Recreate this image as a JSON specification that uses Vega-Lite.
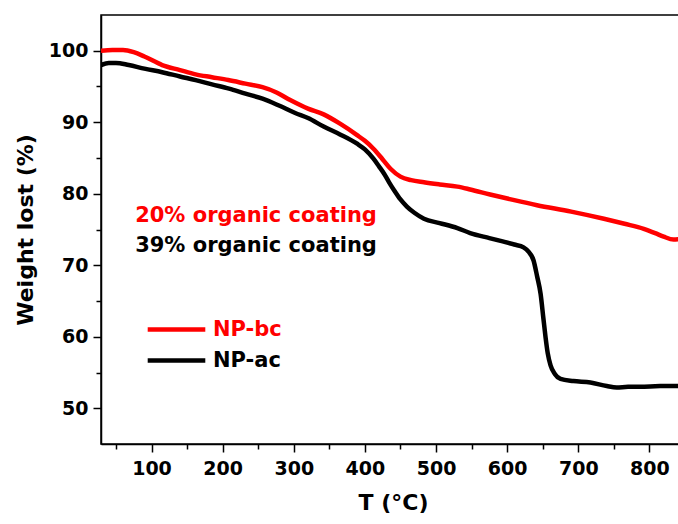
{
  "$schema": "https://vega.github.io/schema/vega-lite/v6.json",
  "width": 584,
  "height": 429,
  "autosize": "none",
  "padding": {"left": 101, "top": 15, "right": 0, "bottom": 80},
  "background": "white",
  "config": {
    "font": "DejaVu Sans",
    "view": {"stroke": "black", "strokeWidth": 1.5},
    "axis": {
      "labelFontSize": 19,
      "labelFontWeight": "bold",
      "labelColor": "black",
      "labelFlush": false,
      "labelOverlap": false,
      "tickColor": "black",
      "tickWidth": 1.5,
      "domainColor": "black",
      "domainWidth": 1.5,
      "grid": false,
      "titleFontSize": 22,
      "titleFontWeight": "bold",
      "titleColor": "black"
    }
  },
  "resolve": {"axis": {"x": "independent", "y": "independent"}},
  "datasets": {
    "tga": [
      {"T": 29, "W": 100.0, "sample": "NP-bc"},
      {"T": 45, "W": 100.1, "sample": "NP-bc"},
      {"T": 60, "W": 100.1, "sample": "NP-bc"},
      {"T": 75, "W": 99.8, "sample": "NP-bc"},
      {"T": 90, "W": 99.2, "sample": "NP-bc"},
      {"T": 115, "W": 98.0, "sample": "NP-bc"},
      {"T": 140, "W": 97.3, "sample": "NP-bc"},
      {"T": 162, "W": 96.7, "sample": "NP-bc"},
      {"T": 185, "W": 96.3, "sample": "NP-bc"},
      {"T": 208, "W": 95.9, "sample": "NP-bc"},
      {"T": 232, "W": 95.4, "sample": "NP-bc"},
      {"T": 256, "W": 94.9, "sample": "NP-bc"},
      {"T": 275, "W": 94.2, "sample": "NP-bc"},
      {"T": 295, "W": 93.1, "sample": "NP-bc"},
      {"T": 320, "W": 91.9, "sample": "NP-bc"},
      {"T": 342, "W": 91.1, "sample": "NP-bc"},
      {"T": 365, "W": 89.8, "sample": "NP-bc"},
      {"T": 389, "W": 88.2, "sample": "NP-bc"},
      {"T": 400, "W": 87.4, "sample": "NP-bc"},
      {"T": 412, "W": 86.3, "sample": "NP-bc"},
      {"T": 425, "W": 84.8, "sample": "NP-bc"},
      {"T": 436, "W": 83.5, "sample": "NP-bc"},
      {"T": 450, "W": 82.4, "sample": "NP-bc"},
      {"T": 465, "W": 81.9, "sample": "NP-bc"},
      {"T": 483, "W": 81.6, "sample": "NP-bc"},
      {"T": 505, "W": 81.3, "sample": "NP-bc"},
      {"T": 530, "W": 81.0, "sample": "NP-bc"},
      {"T": 548, "W": 80.6, "sample": "NP-bc"},
      {"T": 576, "W": 79.9, "sample": "NP-bc"},
      {"T": 610, "W": 79.1, "sample": "NP-bc"},
      {"T": 642, "W": 78.4, "sample": "NP-bc"},
      {"T": 690, "W": 77.5, "sample": "NP-bc"},
      {"T": 736, "W": 76.5, "sample": "NP-bc"},
      {"T": 765, "W": 75.8, "sample": "NP-bc"},
      {"T": 792, "W": 75.1, "sample": "NP-bc"},
      {"T": 808, "W": 74.5, "sample": "NP-bc"},
      {"T": 820, "W": 74.0, "sample": "NP-bc"},
      {"T": 834, "W": 73.6, "sample": "NP-bc"},
      {"T": 845, "W": 73.7, "sample": "NP-bc"},
      {"T": 29, "W": 98.0, "sample": "NP-ac"},
      {"T": 40, "W": 98.3, "sample": "NP-ac"},
      {"T": 50, "W": 98.3, "sample": "NP-ac"},
      {"T": 68, "W": 98.0, "sample": "NP-ac"},
      {"T": 90, "W": 97.5, "sample": "NP-ac"},
      {"T": 115, "W": 97.0, "sample": "NP-ac"},
      {"T": 140, "W": 96.4, "sample": "NP-ac"},
      {"T": 162, "W": 95.9, "sample": "NP-ac"},
      {"T": 185, "W": 95.3, "sample": "NP-ac"},
      {"T": 209, "W": 94.7, "sample": "NP-ac"},
      {"T": 232, "W": 94.0, "sample": "NP-ac"},
      {"T": 256, "W": 93.3, "sample": "NP-ac"},
      {"T": 280, "W": 92.3, "sample": "NP-ac"},
      {"T": 302, "W": 91.3, "sample": "NP-ac"},
      {"T": 320, "W": 90.6, "sample": "NP-ac"},
      {"T": 342, "W": 89.4, "sample": "NP-ac"},
      {"T": 365, "W": 88.3, "sample": "NP-ac"},
      {"T": 389, "W": 87.0, "sample": "NP-ac"},
      {"T": 400, "W": 86.2, "sample": "NP-ac"},
      {"T": 412, "W": 84.9, "sample": "NP-ac"},
      {"T": 420, "W": 83.8, "sample": "NP-ac"},
      {"T": 427, "W": 82.8, "sample": "NP-ac"},
      {"T": 434, "W": 81.6, "sample": "NP-ac"},
      {"T": 441, "W": 80.5, "sample": "NP-ac"},
      {"T": 450, "W": 79.2, "sample": "NP-ac"},
      {"T": 459, "W": 78.2, "sample": "NP-ac"},
      {"T": 470, "W": 77.3, "sample": "NP-ac"},
      {"T": 483, "W": 76.5, "sample": "NP-ac"},
      {"T": 505, "W": 75.9, "sample": "NP-ac"},
      {"T": 530, "W": 75.2, "sample": "NP-ac"},
      {"T": 548, "W": 74.5, "sample": "NP-ac"},
      {"T": 575, "W": 73.8, "sample": "NP-ac"},
      {"T": 595, "W": 73.3, "sample": "NP-ac"},
      {"T": 610, "W": 72.9, "sample": "NP-ac"},
      {"T": 623, "W": 72.5, "sample": "NP-ac"},
      {"T": 630, "W": 71.9, "sample": "NP-ac"},
      {"T": 637, "W": 70.7, "sample": "NP-ac"},
      {"T": 642, "W": 68.5, "sample": "NP-ac"},
      {"T": 647, "W": 66.0, "sample": "NP-ac"},
      {"T": 651, "W": 62.5, "sample": "NP-ac"},
      {"T": 654, "W": 59.9, "sample": "NP-ac"},
      {"T": 657, "W": 57.7, "sample": "NP-ac"},
      {"T": 661, "W": 56.0, "sample": "NP-ac"},
      {"T": 667, "W": 54.8, "sample": "NP-ac"},
      {"T": 675, "W": 54.1, "sample": "NP-ac"},
      {"T": 693, "W": 53.8, "sample": "NP-ac"},
      {"T": 717, "W": 53.6, "sample": "NP-ac"},
      {"T": 740, "W": 53.1, "sample": "NP-ac"},
      {"T": 754, "W": 52.9, "sample": "NP-ac"},
      {"T": 770, "W": 53.0, "sample": "NP-ac"},
      {"T": 787, "W": 53.0, "sample": "NP-ac"},
      {"T": 815, "W": 53.1, "sample": "NP-ac"},
      {"T": 845, "W": 53.1, "sample": "NP-ac"}
    ],
    "notes": [
      {"T": 77, "W": 76.1, "label": "20% organic coating", "sample": "NP-bc"},
      {"T": 77, "W": 71.9, "label": "39% organic coating", "sample": "NP-ac"}
    ]
  },
  "layer": [
    {
      "data": {"name": "tga"},
      "mark": {"type": "line", "strokeWidth": 4.5, "interpolate": "monotone", "clip": true},
      "encoding": {
        "x": {
          "field": "T",
          "type": "quantitative",
          "scale": {"domain": [29, 850], "nice": false, "zero": false},
          "axis": {
            "title": "T (°C)",
            "orient": "bottom",
            "values": [100, 200, 300, 400, 500, 600, 700, 800],
            "tickSize": 8,
            "labelPadding": 7,
            "titlePadding": 14
          }
        },
        "y": {
          "field": "W",
          "type": "quantitative",
          "scale": {"domain": [45, 105], "nice": false, "zero": false},
          "axis": {
            "title": "Weight lost (%)",
            "orient": "left",
            "values": [50, 60, 70, 80, 90, 100],
            "tickSize": 8,
            "labelPadding": 5,
            "titlePadding": 11
          }
        },
        "color": {
          "field": "sample",
          "type": "nominal",
          "scale": {"domain": ["NP-bc", "NP-ac"], "range": ["#ff0000", "#000000"]},
          "legend": {
            "title": null,
            "orient": "none",
            "legendX": 57,
            "legendY": 296,
            "symbolType": "M-1.8,0H1.8",
            "symbolSize": 1024,
            "symbolStrokeWidth": 4.5,
            "labelFontSize": 21,
            "labelFontWeight": "bold",
            "labelOffset": 18,
            "padding": 0,
            "encode": {"labels": {"update": {"fill": {"scale": "color", "field": "value"}}}}
          }
        }
      }
    },
    {
      "data": {"name": "notes"},
      "mark": {"type": "text", "align": "left", "baseline": "alphabetic", "fontSize": 21, "fontWeight": "bold"},
      "encoding": {
        "x": {
          "field": "T",
          "type": "quantitative",
          "axis": {
            "orient": "bottom",
            "title": null,
            "values": [50, 150, 250, 350, 450, 550, 650, 750],
            "labels": false,
            "domain": false,
            "tickSize": 5
          }
        },
        "y": {
          "field": "W",
          "type": "quantitative",
          "axis": {
            "orient": "left",
            "title": null,
            "values": [55, 65, 75, 85, 95],
            "labels": false,
            "domain": false,
            "tickSize": 5
          }
        },
        "text": {"field": "label"},
        "color": {"field": "sample", "type": "nominal", "legend": null}
      }
    }
  ]
}
